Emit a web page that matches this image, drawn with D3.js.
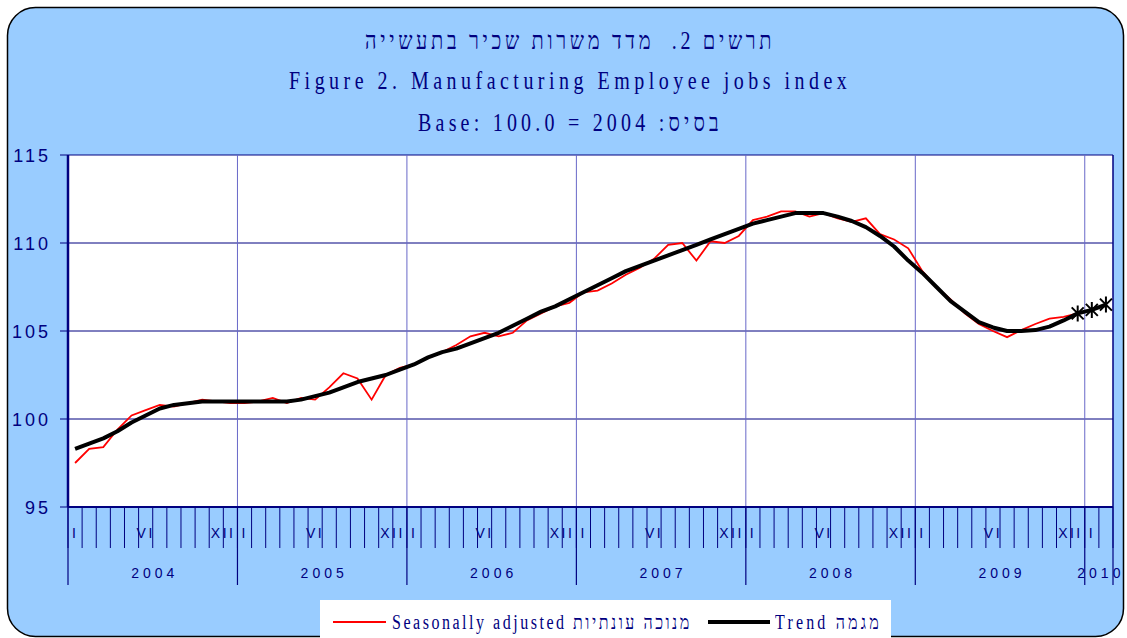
<!DOCTYPE html>
<html>
<head>
<meta charset="utf-8">
<script src="https://cdn.jsdelivr.net/npm/d3@7"></script>
<style>
  body { margin: 0; background: #fff; }
  #wrap { position: relative; width: 1127px; height: 638px; }
  #chart { position: absolute; left: 0; top: 0; }
  svg text { fill: #000080; }
  .sans { font-family: 'Liberation Sans', Arial, sans-serif; }
  .label {
    position: absolute;
    white-space: pre;
    line-height: 1;
    color: #000080;
    font-family: 'Liberation Serif', 'Times New Roman', serif;
    transform-origin: 0 0;
  }
</style>
</head>
<body>
<div id="wrap"><svg id="chart"></svg></div>
<script>
// categories
const years = [2004, 2005, 2006, 2007, 2008, 2009, 2010];
const monthsPerYear = [12, 12, 12, 12, 12, 12, 2];
const monthLabels = ['I', '', '', '', '', 'VI', '', '', '', '', '', 'XII'];
const yTicks = [95, 100, 105, 110, 115];

const titleLines = [
  'תרשים 2.  מדד משרות שכיר בתעשייה',
  'Figure 2. Manufacturing Employee jobs index',
  'Base: 100.0 = 2004 :בסיס'
];
const titleDirections = ['rtl', 'ltr', 'ltr'];
const seriesNames = ['Seasonally adjusted מנוכה עונתיות', 'Trend מגמה'];

// series values, Jan 2004 onwards
const seasonallyAdjusted = [
  97.5, 98.3, 98.4, 99.4, 100.2, 100.5, 100.8, 100.7, 100.9, 101.1, 101.0, 100.9,
  100.9, 101.0, 101.2, 100.9, 101.2, 101.1, 101.8, 102.6, 102.3, 101.1, 102.5, 102.9,
  103.1, 103.5, 103.8, 104.2, 104.7, 104.9, 104.7, 104.9, 105.6, 106.0, 106.4, 106.6,
  107.2, 107.3, 107.7, 108.2, 108.6, 109.1, 109.9, 110.0, 109.0, 110.1, 110.0, 110.4,
  111.3, 111.5, 111.8, 111.8, 111.5, 111.7, 111.4, 111.2, 111.4, 110.5, 110.2, 109.7,
  108.4, 107.5, 106.8, 106.0, 105.4, 105.0, 104.65, 105.05, 105.4, 105.7, 105.8, 106.0
];
const trend = [
  98.3, 98.6, 98.9, 99.3, 99.8, 100.2, 100.6, 100.8, 100.9, 101.0, 101.0, 101.0,
  101.0, 101.0, 101.0, 101.0, 101.1, 101.3, 101.5, 101.8, 102.1, 102.3, 102.5, 102.8,
  103.1, 103.5, 103.8, 104.0, 104.3, 104.6, 104.9, 105.3, 105.7, 106.1, 106.4, 106.8,
  107.2, 107.6, 108.0, 108.4, 108.7, 109.0, 109.3, 109.6, 109.9, 110.2, 110.5, 110.8,
  111.1, 111.3, 111.5, 111.7, 111.7, 111.7, 111.5, 111.25, 110.9, 110.4, 109.8, 109.0,
  108.3, 107.5, 106.7, 106.1, 105.5, 105.2, 105.0, 105.0, 105.05, 105.25, 105.6, 106.0,
  106.2, 106.5
];
const trendEstimatedCount = 3; // last points drawn with star markers

class IndexChart {
  constructor(_config) {
    this.config = {
      parentElement: _config.parentElement,
      wrapElement: _config.wrapElement,
      containerWidth: 1127,
      containerHeight: 638,
      margin: {top: 155, right: 14, bottom: 131, left: 68},
      navy: '#000080',
      yearGrid: '#6868c8',
      background: '#99ccff',
      squeeze: 0.8
    };
    this.initVis();
  }

  initVis() {
    let vis = this;
    const c = vis.config;
    c.width = c.containerWidth - c.margin.left - c.margin.right;
    c.height = c.containerHeight - c.margin.top - c.margin.bottom;

    vis.svg = d3.select(c.parentElement)
        .attr('width', c.containerWidth)
        .attr('height', c.containerHeight);

    // rounded blue panel
    vis.svg.append('rect')
        .attr('x', 7.5).attr('y', 7.5)
        .attr('width', 1116).attr('height', 629)
        .attr('rx', 28)
        .attr('fill', c.background)
        .attr('stroke', '#000')
        .attr('stroke-width', 1.5);

    vis.chart = vis.svg.append('g')
        .attr('transform', `translate(${c.margin.left},${c.margin.top})`);

    vis.chart.append('rect')
        .attr('width', c.width)
        .attr('height', c.height)
        .attr('fill', '#fff');

    // month categories
    vis.categories = [];
    years.forEach((y, yi) => {
      for (let m = 0; m < monthsPerYear[yi]; m++) vis.categories.push({year: y, month: m});
    });

    vis.xScale = d3.scaleBand()
        .domain(d3.range(vis.categories.length))
        .range([0, c.width])
        .padding(0);

    vis.yScale = d3.scaleLinear()
        .domain([95, 115])
        .range([c.height, 0]);

    vis.renderVis();
    vis.renderLegend();
    vis.renderTitles();
  }

  renderVis() {
    let vis = this;
    const c = vis.config;
    const bw = vis.xScale.bandwidth();
    const xc = i => vis.xScale(i) + bw / 2;

    // horizontal gridlines
    vis.chart.selectAll('.hgrid')
        .data(yTicks)
      .join('line')
        .attr('class', 'hgrid')
        .attr('x1', -8).attr('x2', c.width)
        .attr('y1', d => vis.yScale(d)).attr('y2', d => vis.yScale(d))
        .attr('stroke', c.navy)
        .attr('stroke-width', 1);

    vis.chart.selectAll('.ylabel')
        .data(yTicks)
      .join('text')
        .attr('class', 'ylabel sans')
        .attr('x', -17)
        .attr('y', d => vis.yScale(d) + 7)
        .attr('text-anchor', 'end')
        .attr('font-size', 18)
        .attr('letter-spacing', 3)
        .text(d => d);

    // year boundaries
    const yearStarts = [];
    vis.categories.forEach((d, i) => { if (d.month === 0) yearStarts.push(i); });
    const yearEdges = yearStarts.map(i => vis.xScale(i)).concat([c.width]);

    vis.chart.selectAll('.vgrid')
        .data(yearEdges.slice(1, -1))
      .join('line')
        .attr('class', 'vgrid')
        .attr('x1', d => d).attr('x2', d => d)
        .attr('y1', 0).attr('y2', c.height)
        .attr('stroke', c.yearGrid)
        .attr('stroke-width', 1);

    vis.chart.selectAll('.yearline')
        .data(yearEdges)
      .join('line')
        .attr('class', 'yearline')
        .attr('x1', d => d).attr('x2', d => d)
        .attr('y1', c.height).attr('y2', c.height + 78)
        .attr('stroke', c.navy)
        .attr('stroke-width', 1.2);

    // month ticks
    vis.chart.selectAll('.mtick')
        .data(d3.range(vis.categories.length + 1))
      .join('line')
        .attr('class', 'mtick')
        .attr('x1', i => i * bw).attr('x2', i => i * bw)
        .attr('y1', c.height).attr('y2', c.height + 41)
        .attr('stroke', c.navy)
        .attr('stroke-width', 1);

    // Jan label sits just right of the year line, Dec just left of it
    vis.chart.selectAll('.mlabel')
        .data(vis.categories.filter(d => monthLabels[d.month] !== ''))
      .join('text')
        .attr('class', 'mlabel sans')
        .attr('x', d => {
          const i = vis.categories.indexOf(d);
          if (d.month === 0) return vis.xScale(i) + 4;
          if (d.month === 11) return vis.xScale(i) + bw - 2;
          return xc(i);
        })
        .attr('y', c.height + 31)
        .attr('text-anchor', d => d.month === 0 ? 'start' : d.month === 11 ? 'end' : 'middle')
        .attr('font-size', 14)
        .attr('letter-spacing', 2.5)
        .text(d => monthLabels[d.month]);

    vis.chart.selectAll('.yearlabel')
        .data(years)
      .join('text')
        .attr('class', 'yearlabel sans')
        .attr('x', (d, i) => (yearEdges[i] + yearEdges[i + 1]) / 2 + 2)
        .attr('y', c.height + 71)
        .attr('text-anchor', 'middle')
        .attr('font-size', 14)
        .attr('letter-spacing', 4)
        .text(d => d);

    // frame
    vis.chart.append('line')
        .attr('x1', c.width).attr('x2', c.width)
        .attr('y1', 0).attr('y2', c.height)
        .attr('stroke', c.navy).attr('stroke-width', 1.5);
    vis.chart.append('line')
        .attr('x1', 0).attr('x2', c.width)
        .attr('y1', c.height).attr('y2', c.height)
        .attr('stroke', c.navy).attr('stroke-width', 2);
    vis.chart.append('line')
        .attr('x1', 0).attr('x2', 0)
        .attr('y1', 0).attr('y2', c.height)
        .attr('stroke', c.navy).attr('stroke-width', 2.5);

    const line = d3.line()
        .x((d, i) => xc(i))
        .y(d => vis.yScale(d));

    vis.chart.append('path')
        .datum(seasonallyAdjusted)
        .attr('fill', 'none')
        .attr('stroke', '#ff0000')
        .attr('stroke-width', 1.8)
        .attr('d', line);

    vis.chart.append('path')
        .datum(trend)
        .attr('fill', 'none')
        .attr('stroke', '#000')
        .attr('stroke-width', 4)
        .attr('stroke-linejoin', 'round')
        .attr('d', line);

    // star markers on the last trend points
    const starPath = 'M-6,-6L6,6M-6,6L6,-6M0,-8L0,8';
    const starIdx = d3.range(trend.length - trendEstimatedCount, trend.length);
    vis.chart.selectAll('.star')
        .data(starIdx)
      .join('path')
        .attr('class', 'star')
        .attr('transform', i => `translate(${xc(i)},${vis.yScale(trend[i])})`)
        .attr('d', starPath)
        .attr('stroke', '#000')
        .attr('stroke-width', 2)
        .attr('fill', 'none');
  }

  // html text with letter spacing fitted so each line spans the given width
  addLabel(text, left, baseline, width, fontSize, dir) {
    let vis = this;
    const s = vis.config.squeeze;
    const el = d3.select(vis.config.wrapElement).append('div')
        .attr('class', 'label')
        .attr('dir', dir || 'ltr')
        .style('font-size', fontSize + 'px')
        .style('left', left + 'px')
        .style('top', (baseline - 0.8375 * fontSize) + 'px')
        .text(text);
    const natural = el.node().offsetWidth;
    const n = [...text].length;
    el.style('letter-spacing', ((width / s - natural) / n) + 'px')
      .style('transform', `scaleX(${s})`);
  }

  renderTitles() {
    let vis = this;
    const titleY = [49, 89, 131];
    const titleW = [410, 562, 305];
    titleLines.forEach((t, i) =>
      vis.addLabel(t, 570 - titleW[i] / 2, titleY[i], titleW[i], 25, titleDirections[i]));
  }

  renderLegend() {
    let vis = this;
    vis.legend = vis.svg.append('g');

    vis.legend.append('rect')
        .attr('x', 320).attr('y', 600)
        .attr('width', 571).attr('height', 45)
        .attr('fill', '#fff');

    const items = [
      {name: seriesNames[0], color: '#ff0000', width: 1.8, x1: 333, x2: 386, tx: 392, tw: 300},
      {name: seriesNames[1], color: '#000', width: 4, x1: 708, x2: 770, tx: 775, tw: 107}
    ];

    vis.legend.selectAll('line')
        .data(items)
      .join('line')
        .attr('x1', d => d.x1).attr('x2', d => d.x2)
        .attr('y1', 622).attr('y2', 622)
        .attr('stroke', d => d.color)
        .attr('stroke-width', d => d.width);

    items.forEach(d => vis.addLabel(d.name, d.tx, 629, d.tw, 20, 'ltr'));
  }
}

new IndexChart({parentElement: '#chart', wrapElement: '#wrap'});
</script>
</body>
</html>
